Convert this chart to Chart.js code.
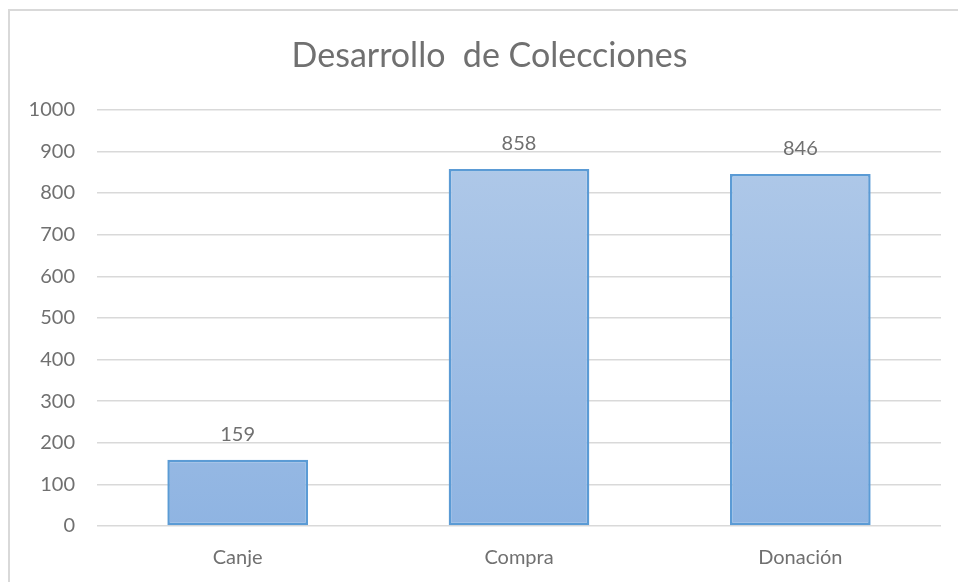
<!DOCTYPE html>
<html>
<head>
<meta charset="utf-8">
<script src="https://cdn.jsdelivr.net/npm/chart.js@4"></script>
<style>
  html, body { margin: 0; padding: 0; background: #fff; }
  #wrap { width: 958px; height: 582px; }
</style>
</head>
<body>
<div id="wrap"><canvas id="myChart" width="958" height="582"></canvas></div>
<script>
let categories = ["Canje", "Compra", "Donación"]
let values = [159, 858, 846]
let yTicks = [0, 100, 200, 300, 400, 500, 600, 700, 800, 900, 1000]

let fontFamily = "Lato, 'Open Sans', sans-serif"
let textColor = "#707070"

// thin grey frame round the whole chart, title nudged right
const frame = {
    id: 'frame',
    afterLayout(chart) {
        chart.titleBlock.left += 14
        chart.titleBlock.right += 14
    },
    beforeDraw(chart) {
        let ctx = chart.ctx
        ctx.save()
        ctx.strokeStyle = '#d9d9d9'
        ctx.lineWidth = 2
        ctx.strokeRect(9, 10, 1200, 1200)
        ctx.restore()
    }
}

// value printed above each bar
const barLabels = {
    id: 'barLabels',
    afterDatasetsDraw(chart) {
        let ctx = chart.ctx
        let meta = chart.getDatasetMeta(0)
        ctx.save()
        ctx.font = `20px ${fontFamily}`
        ctx.fillStyle = textColor
        ctx.textAlign = 'center'
        ctx.textBaseline = 'middle'
        meta.data.forEach(function (bar, i) {
            ctx.fillText(values[i], bar.x, bar.y - 25)
        })
        ctx.restore()
    }
}

function barFill(context) {
    let chart = context.chart
    let area = chart.chartArea
    if (!area) return '#9fbfe5'
    let g = chart.ctx.createLinearGradient(0, area.top, 0, area.bottom)
    g.addColorStop(0, '#b3cbe9')
    g.addColorStop(1, '#8fb4e2')
    return g
}

new Chart("myChart", {
    type: "bar",
    data: {
        labels: categories,
        datasets: [{
            data: values,
            backgroundColor: barFill,
            borderColor: '#5b9bd5',
            borderWidth: 2.5,
            borderSkipped: false,
            categoryPercentage: 1,
            barPercentage: 0.5
        }]
    },
    options: {
        responsive: false,
        animation: false,
        layout: { padding: { left: 10, right: 17, top: 0, bottom: 0 } },
        plugins: {
            legend: { display: false },
            tooltip: { enabled: false },
            title: {
                display: true,
                text: "Desarrollo  de Colecciones",
                color: textColor,
                font: { family: fontFamily, size: 34, weight: 'normal' },
                padding: { top: 36, bottom: 33 }
            }
        },
        scales: {
            y: {
                min: 0,
                max: 1000,
                afterBuildTicks(axis) {
                    axis.ticks = yTicks.map(v => ({ value: v }))
                },
                afterFit(axis) { axis.width = 87 },
                border: { display: false },
                grid: { color: '#d9d9d9', lineWidth: 1.5, drawTicks: false },
                ticks: {
                    color: textColor,
                    padding: 22,
                    font: { family: fontFamily, size: 20 },
                    callback: (v) => String(v)
                }
            },
            x: {
                afterFit(axis) { axis.height = 56 },
                border: { display: false },
                grid: { display: false },
                ticks: {
                    color: textColor,
                    padding: 12,
                    font: { family: fontFamily, size: 20 }
                }
            }
        }
    },
    plugins: [frame, barLabels]
});
</script>
</body>
</html>
